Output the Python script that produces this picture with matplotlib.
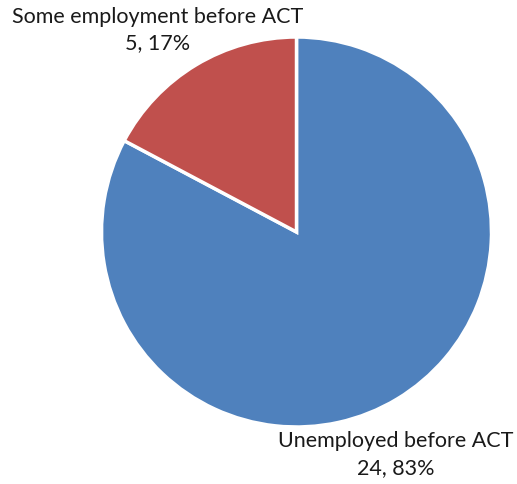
import matplotlib.pyplot as plt

labels = ["Unemployed before ACT", "Some employment before ACT"]
counts = [24, 5]
colors = ["#4F81BD", "#C0504D"]
# label centres in axes data units (pie radius = 1)
label_pos = [(0.51, -1.14), (-0.71, 1.036)]

if __name__ == '__main__':
    plt.rcParams['font.family'] = ['Lato', 'DejaVu Sans']

    fig = plt.figure(figsize=(5.17, 4.84), dpi=100)
    ax = fig.add_axes([(296.5 - 195) / 517, (484 - 232 - 195) / 484, 390 / 517, 390 / 484])

    ax.pie(counts, colors=colors, startangle=90, counterclock=False,
           wedgeprops=dict(edgecolor='white', linewidth=2.5))
    ax.set_xlim(-1, 1)
    ax.set_ylim(-1, 1)
    ax.set_aspect('equal')
    ax.axis('off')

    total = sum(counts)
    for name, n, (x, y) in zip(labels, counts, label_pos):
        pct = round(100 * n / total)
        ax.text(x, y, f"{name}\n{n}, {pct}%", ha='center', va='center',
                fontsize=15.5, color='#1a1a1a', linespacing=1.42, clip_on=False)

    fig.savefig('out.png', dpi=100)
